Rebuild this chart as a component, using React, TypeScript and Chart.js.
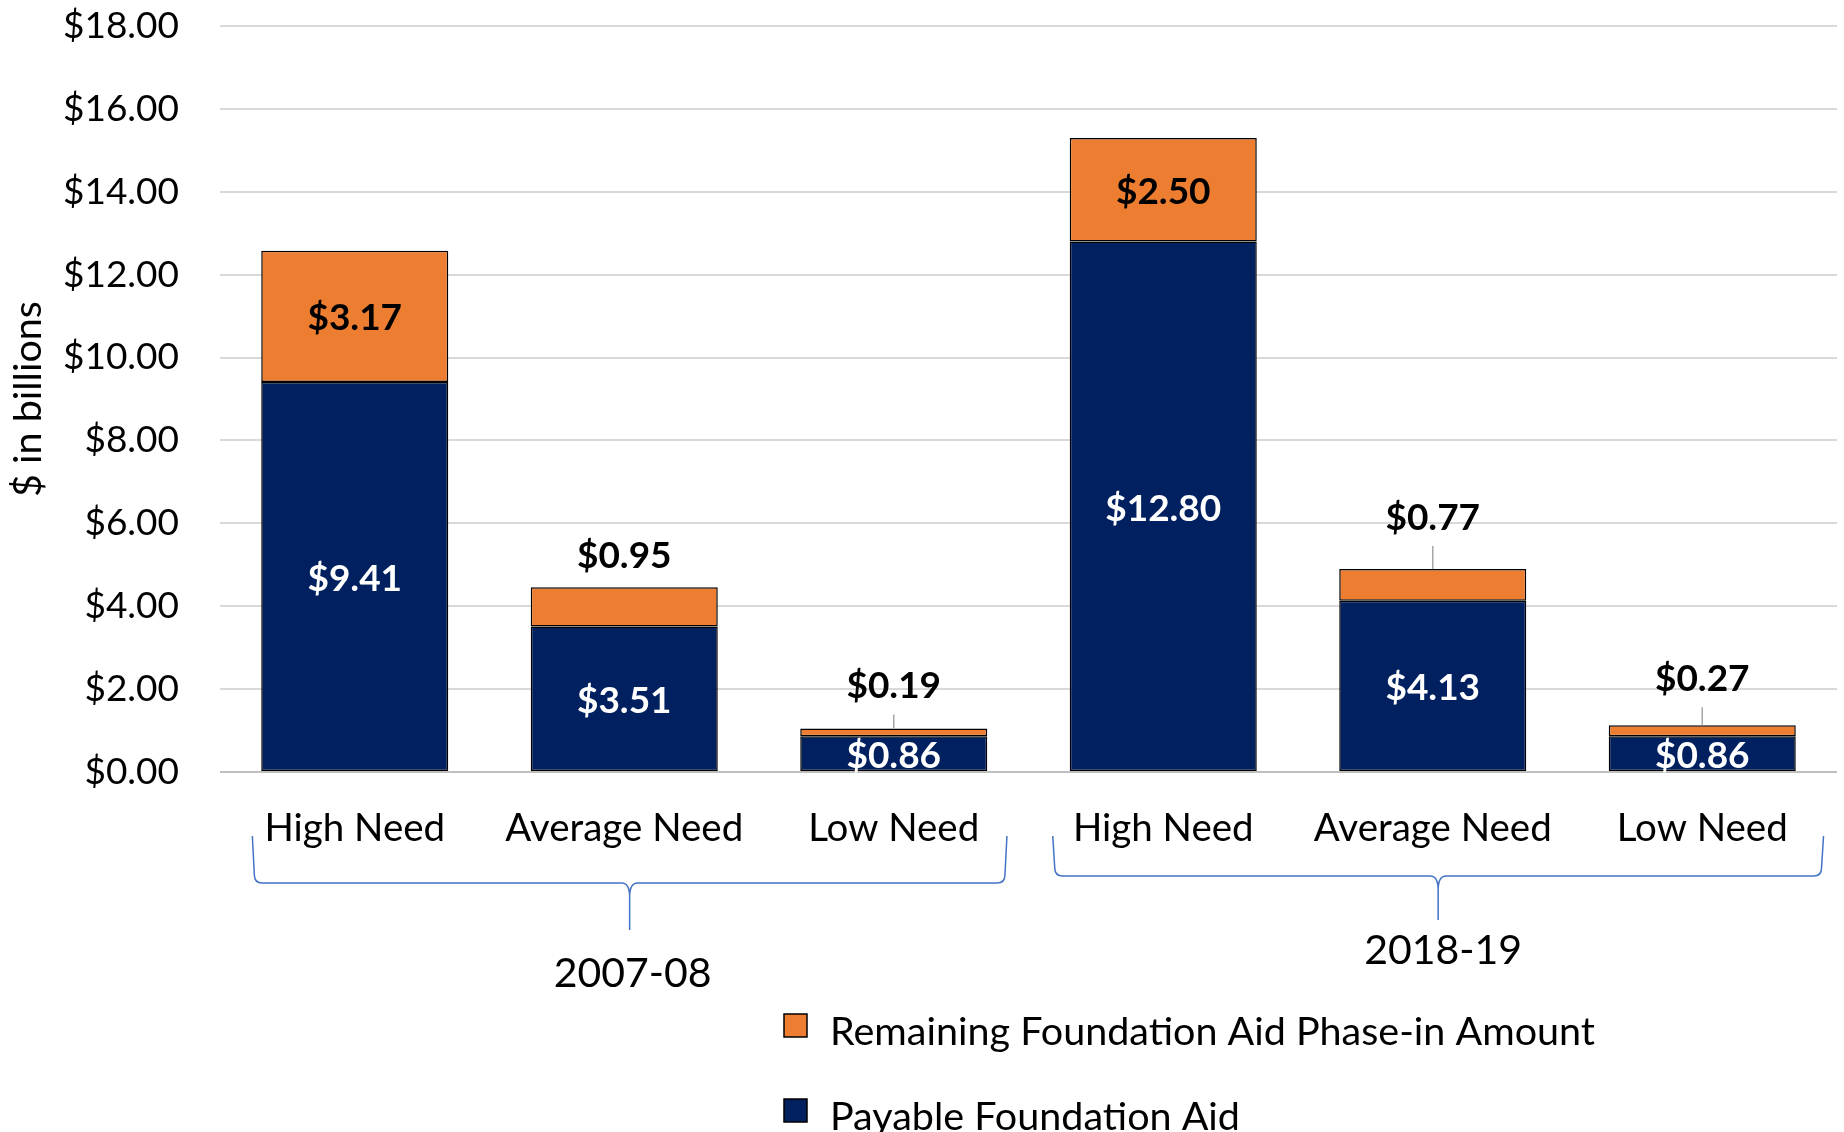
import { useEffect, useRef } from "react";
import { Chart, registerables } from "chart.js";

Chart.register(...registerables);

// ---- data ----
const categories = ["High Need", "Average Need", "Low Need", "High Need", "Average Need", "Low Need"];
const groupLabels = ["2007-08", "2018-19"];
const groupSpans = [[0, 2], [3, 5]];
const payableAid = [9.41, 3.51, 0.86, 12.8, 4.13, 0.86];
const remainingAid = [3.17, 0.95, 0.19, 2.5, 0.77, 0.27];
const seriesNames = ["Payable Foundation Aid", "Remaining Foundation Aid Phase-in Amount"];
const yMin = 0;
const yMax = 18;
const yStep = 2;

// ---- styles ----
const FONT = "Lato, 'Open Sans', sans-serif";
const NAVY = "#002060";
const ORANGE = "#ED7D31";
const BRACKET = "#4472C4";
// how far above the bar top the small (outside) labels sit, px
const outsideLabelLift = [0, 33, 44, 0, 53, 48];
// bracket extents as fraction of a category width, left of first / right of last
const bracketExt = [[0.38, 0.42], [0.41, 0.45]];
const bracketTop = [836, 836];
const bracketMid = [883, 876];
const bracketTip = [930, 920];
const groupLabelY = [974, 951];
const groupLabelDx = [3, 5];

const fmt = (v: number) => "$" + v.toFixed(2);

const overlayPlugin = {
  id: "overlay",
  afterDatasetsDraw(chart: any) {
    const ctx = chart.ctx as CanvasRenderingContext2D;
    const xs = chart.scales.x;
    const ys = chart.scales.y;
    ctx.save();
    ctx.font = `bold 37px ${FONT}`;
    ctx.textAlign = "center";
    ctx.textBaseline = "middle";
    payableAid.forEach((v, i) => {
      const cx = xs.getPixelForValue(i);
      const yc = (ys.getPixelForValue(0) + ys.getPixelForValue(v)) / 2;
      ctx.fillStyle = "#ffffff";
      ctx.fillText(fmt(v), cx, yc + 2);
    });
    remainingAid.forEach((v, i) => {
      const cx = xs.getPixelForValue(i);
      const top = ys.getPixelForValue(payableAid[i] + v);
      const bottom = ys.getPixelForValue(payableAid[i]);
      ctx.fillStyle = "#000000";
      if (bottom - top > 50) {
        ctx.fillText(fmt(v), cx, (top + bottom) / 2 + 2);
      } else {
        const lc = top - outsideLabelLift[i];
        if (top - (lc + 30) > 5) {
          ctx.strokeStyle = "#A6A6A6";
          ctx.lineWidth = 1.5;
          ctx.beginPath();
          ctx.moveTo(cx, lc + 30);
          ctx.lineTo(cx, top);
          ctx.stroke();
        }
        ctx.fillText(fmt(v), cx, lc + 2);
      }
    });
    ctx.restore();
  },
  afterDraw(chart: any) {
    const ctx = chart.ctx as CanvasRenderingContext2D;
    const xs = chart.scales.x;
    const cw = xs.getPixelForValue(1) - xs.getPixelForValue(0);
    ctx.save();
    // brackets
    groupSpans.forEach((span, g) => {
      const L = xs.getPixelForValue(span[0]) - bracketExt[g][0] * cw;
      const R = xs.getPixelForValue(span[1]) + bracketExt[g][1] * cw;
      const C = (L + R) / 2;
      const top = bracketTop[g];
      const hy = bracketMid[g];
      const tip = bracketTip[g];
      const r = 8;
      ctx.strokeStyle = BRACKET;
      ctx.lineWidth = 1.5;
      ctx.beginPath();
      ctx.moveTo(L, top);
      ctx.lineTo(L + 2, hy - r);
      ctx.quadraticCurveTo(L + 2, hy, L + 2 + r, hy);
      ctx.lineTo(C - r, hy);
      ctx.quadraticCurveTo(C, hy, C, hy + 14);
      ctx.lineTo(C, tip);
      ctx.moveTo(C, hy + 14);
      ctx.quadraticCurveTo(C, hy, C + r, hy);
      ctx.lineTo(R - 2 - r, hy);
      ctx.quadraticCurveTo(R - 2, hy, R - 2, hy - r);
      ctx.lineTo(R, top);
      ctx.stroke();
      ctx.fillStyle = "#000";
      ctx.font = `41px ${FONT}`;
      ctx.textAlign = "center";
      ctx.textBaseline = "middle";
      ctx.fillText(groupLabels[g], C + groupLabelDx[g], groupLabelY[g]);
    });
    // legend (Remaining first, then Payable)
    const legendItems = [
      { name: seriesNames[1], color: ORANGE, y: 1026 },
      { name: seriesNames[0], color: NAVY, y: 1111 },
    ];
    legendItems.forEach((it) => {
      ctx.fillStyle = it.color;
      ctx.fillRect(784, it.y - 12, 23, 23);
      ctx.strokeStyle = "#000";
      ctx.lineWidth = 1.5;
      ctx.strokeRect(784, it.y - 12, 23, 23);
      ctx.fillStyle = "#000";
      ctx.font = `39.5px ${FONT}`;
      ctx.textAlign = "left";
      ctx.textBaseline = "middle";
      ctx.fillText(it.name, 830, it.y + 6);
    });
    ctx.restore();
  },
};

export default function App() {
  const ref = useRef<HTMLCanvasElement>(null);
  useEffect(() => {
    if (!ref.current) return;
    const chart = new Chart(ref.current, {
      type: "bar",
      data: {
        labels: categories,
        datasets: [
          {
            label: seriesNames[0],
            data: payableAid,
            backgroundColor: NAVY,
            borderColor: "#000",
            borderWidth: 1.5,
            borderSkipped: false,
            barPercentage: 0.694,
            categoryPercentage: 1,
          },
          {
            label: seriesNames[1],
            data: remainingAid,
            backgroundColor: ORANGE,
            borderColor: "#000",
            borderWidth: 1.5,
            borderSkipped: false,
            barPercentage: 0.694,
            categoryPercentage: 1,
          },
        ],
      },
      options: {
        responsive: false,
        animation: false,
        devicePixelRatio: 1,
        layout: { padding: { top: 26, right: 7, left: 0, bottom: 0 } },
        plugins: { legend: { display: false }, tooltip: { enabled: false } },
        scales: {
          x: {
            stacked: true,
            grid: { display: false, drawTicks: false },
            border: { display: false },
            ticks: {
              color: "#000",
              font: { family: FONT, size: 38.5 },
              padding: 33,
              autoSkip: false,
              maxRotation: 0,
            },
            afterFit: (s: any) => {
              s.height = 360;
            },
          },
          y: {
            stacked: true,
            min: yMin,
            max: yMax,
            grid: {
              color: (c: any) => (c.tick && c.tick.value === 0 ? "#BFBFBF" : "#D9D9D9"),
              lineWidth: 2,
              drawTicks: true,
              tickLength: 41,
              tickColor: "rgba(0,0,0,0)",
            },
            border: { display: false },
            ticks: {
              stepSize: yStep,
              color: "#000",
              font: { family: FONT, size: 37 },
              padding: 0,
              callback: (v: any) => fmt(Number(v)),
            },
            title: {
              display: true,
              text: "$ in billions",
              color: "#000",
              font: { family: FONT, size: 39.5 },
              padding: { top: 5, bottom: 0 },
            },
            afterFit: (s: any) => {
              s.width = 220;
            },
          },
        },
      },
      plugins: [overlayPlugin],
    });
    return () => chart.destroy();
  }, []);
  return (
    <div style={{ position: "absolute", left: 0, top: 0, width: 1844, height: 1132, background: "#fff" }}>
      <canvas ref={ref} width={1844} height={1132} style={{ display: "block" }} />
    </div>
  );
}
